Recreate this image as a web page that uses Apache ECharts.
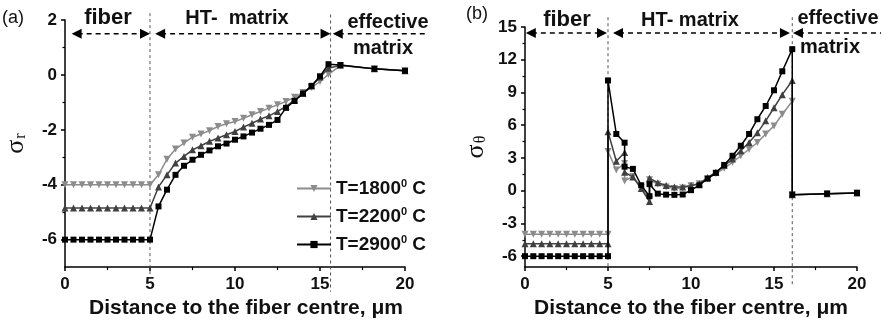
<!DOCTYPE html>
<html><head><meta charset="utf-8">
<script src="https://cdn.jsdelivr.net/npm/echarts@6/dist/echarts.min.js"></script>
<style>html,body{margin:0;padding:0;background:#fff}#c{width:881px;height:324px}</style>
</head><body><div id="c"></div>
<script>
// ---------- data: panel (a) sigma_r ----------
const xR = [0,0.5,1,1.5,2,2.5,3,3.5,4,4.5,5,
  5.5,6,6.5,7,7.5,8,8.5,9,9.5,10,10.5,11,11.5,12,12.5,13,13.5,14,14.5,15,15.5,
  16.2,18.2,20];
const sr1800 = [-4,-4,-4,-4,-4,-4,-4,-4,-4,-4,-4,
  -3.64,-3.07,-2.7,-2.48,-2.27,-2.15,-2.03,-1.88,-1.78,-1.7,-1.58,-1.45,-1.33,-1.21,-1.09,-0.97,-0.81,-0.64,-0.46,-0.24,0.02,
  0.34,0.22,0.15];
const sr2200 = [-4.85,-4.85,-4.85,-4.85,-4.85,-4.85,-4.85,-4.85,-4.85,-4.85,-4.85,
  -4.08,-3.64,-3.21,-2.97,-2.73,-2.58,-2.42,-2.3,-2.18,-2.06,-1.9,-1.76,-1.61,-1.49,-1.33,-1.15,-0.91,-0.67,-0.4,-0.08,0.24,
  0.35,0.22,0.15];
const sr2900 = [-6,-6,-6,-6,-6,-6,-6,-6,-6,-6,-6,
  -4.79,-4.18,-3.64,-3.31,-3.09,-2.91,-2.75,-2.6,-2.5,-2.36,-2.24,-2.1,-1.96,-1.82,-1.64,-1.2,-0.95,-0.68,-0.4,-0.05,0.39,
  0.36,0.22,0.15];

// ---------- data: panel (b) sigma_theta ----------
const xT = [0,0.5,1,1.5,2,2.5,3,3.5,4,4.5,5,
  5,5.5,6,6,6.5,7,7.5,7.5,8,8.5,9,9.5,10,10.5,11,11.5,12,12.5,13,13.5,14,14.5,15,15.5,16.1,
  16.1,18.2,20];
const st1800 = [-4,-4,-4,-4,-4,-4,-4,-4,-4,-4,-4,
  3.6,1.9,2.5,0.9,1.3,0.3,-0.75,1.0,0.6,0.35,0.2,0.25,0.45,0.64,1.1,1.55,2.06,2.6,3.2,3.8,4.42,5.2,5.94,7.0,8.2,
  -0.36,-0.27,-0.2];
const st2200 = [-4.85,-4.85,-4.85,-4.85,-4.85,-4.85,-4.85,-4.85,-4.85,-4.85,-4.85,
  5.4,2.7,3.5,1.7,1.25,0.2,-1.0,1.15,0.73,0.48,0.33,0.33,0.48,0.64,1.2,1.7,2.3,2.9,3.67,4.42,5.3,6.4,7.6,8.8,10.1,
  -0.36,-0.27,-0.2];
const st2900 = [-6,-6,-6,-6,-6,-6,-6,-6,-6,-6,-6,
  10.1,5.2,4.4,2.2,2.0,0.5,-0.5,0.6,-0.27,-0.36,-0.38,-0.35,0.05,0.5,1.1,1.64,2.36,3.2,4.12,5.2,6.55,7.76,9.2,10.94,12.97,
  -0.36,-0.27,-0.2];

const seriesNames = ['T=1800','T=2200','T=2900'];
const yTicksA = [-6,-4,-2,0,2];
const yMinorA = [-5,-3,-1,1];
const yTicksB = [-6,-3,0,3,6,9,12,15];
const yMinorB = [-4.5,-1.5,1.5,4.5,7.5,10.5,13.5];

// annotation spans (data units)
const arrowsA = {y:1.5, segs:[[0.39,5.0,true,true],[5.3,15.62,true,true],[15.75,21.3,true,false]]};
const arrowsB = {y:14.45, segs:[[0.05,4.94,true,true],[5.3,15.96,true,true],[16.14,21.5,true,false]]};
const vlinesA = [[5,2.25,-7.4],[15.62,2.2,-7.9]];
const vlinesB = [[5,15.9,-7],[16.1,15.9,-8.6]];

const FONT = '"Liberation Sans", Arial, sans-serif';
const SERIF = '"Liberation Serif", "Times New Roman", serif';
const colors = ['#8c8c8c','#404040','#000000'];
const symbols = [['triangle',180],['triangle',0],['rect',0]];
const zip = (xs, ys) => xs.map((x,i)=>[x, ys[i]]);

const chart = echarts.init(document.getElementById('c'), null, {renderer:'canvas'});

function xAxisCfg(grid, nameGap, pad){
  return {gridIndex:grid, type:'value', min:0, max:20, interval:5,
    axisLine:{onZero:false, lineStyle:{color:'#000', width:1.5}},
    axisTick:{length:4, lineStyle:{color:'#000', width:1.5}},
    minorTick:{show:true, splitNumber:2, length:3, lineStyle:{color:'#000', width:1.2}},
    splitLine:{show:false},
    axisLabel:{fontSize:17, fontWeight:'bold', color:'#111', fontFamily:FONT, margin:9},
    name:'Distance to the fiber centre, \u03bcm', nameLocation:'middle', nameGap:nameGap,
    nameTextStyle:{fontSize:21, fontWeight:'bold', color:'#111', fontFamily:FONT, padding:pad}
  };
}
function yMajor(grid, min, max, ticks, name, gap){
  return {gridIndex:grid, type:'value', min:min, max:max, position:'left',
    axisLine:{show:true, onZero:false, lineStyle:{color:'#000', width:1.5}},
    axisTick:{show:true, customValues:ticks, length:4, lineStyle:{color:'#000', width:1.5}},
    axisLabel:{customValues:ticks, fontSize:17, fontWeight:'bold', color:'#111', fontFamily:FONT, margin:8},
    splitLine:{show:false},
    name:name, nameLocation:'middle', nameGap:gap, nameRotate:90,
    nameTextStyle:{rich:{
      g:{fontFamily:SERIF, fontSize:26, color:'#111'},
      sub:{fontFamily:SERIF, fontSize:16, color:'#111', padding:[10,0,0,1]}
    }}
  };
}
function yMinor(grid, min, max, ticks){
  return {gridIndex:grid, type:'value', min:min, max:max, position:'left', offset:0,
    axisLine:{show:false, onZero:false},
    axisTick:{show:true, customValues:ticks, length:2.5, lineStyle:{color:'#000', width:1.2}},
    axisLabel:{show:false}, splitLine:{show:false}};
}

const series = [];
const setsA = [sr1800, sr2200, sr2900];
const setsB = [st1800, st2200, st2900];
for (let i=0;i<3;i++){
  series.push({type:'line', name:seriesNames[i], xAxisIndex:0, yAxisIndex:0,
    data:zip(xR, setsA[i]), symbol:symbols[i][0], symbolRotate:symbols[i][1],
    symbolSize: i===2?6:7, showAllSymbol:true, animation:false,
    lineStyle:{color:colors[i], width:1.5}, itemStyle:{color:colors[i]}, z:2+i});
}
for (let i=0;i<3;i++){
  series.push({type:'line', name:seriesNames[i], xAxisIndex:1, yAxisIndex:2,
    data:zip(xT, setsB[i]), symbol:symbols[i][0], symbolRotate:symbols[i][1],
    symbolSize: i===2?6:7, showAllSymbol:true, animation:false,
    lineStyle:{color:colors[i], width:1.5}, itemStyle:{color:colors[i]}, z:2+i});
}

chart.setOption({
  backgroundColor:'#fff',
  animation:false,
  grid:[
    {left:65, right:476, top:20, bottom:56, containLabel:false},
    {left:525, right:24, top:27, bottom:56, containLabel:false}
  ],
  xAxis:[xAxisCfg(0, 28, [0,0,0,22]), xAxisCfg(1, 25, [0,0,0,0])],
  yAxis:[
    yMajor(0, -7, 2, yTicksA, '{g|\u03c3}{sub|r}', 36),
    yMinor(0, -7, 2, yMinorA),
    yMajor(1, -7, 15, yTicksB, '{g|\u03c3}{sub|\u03b8}', 36),
    yMinor(1, -7, 15, yMinorB)
  ],
  legend:{data:seriesNames, orient:'vertical', left:291, top:173, itemWidth:34, itemHeight:9, itemGap:8,
    formatter: n => '{a|' + n + '}{s|0}{a| C}',
    textStyle:{rich:{
      a:{fontSize:19, fontWeight:'bold', fontFamily:FONT, color:'#111'},
      s:{fontSize:11, fontWeight:'bold', fontFamily:FONT, color:'#111', padding:[0,0,10,0]}
    }}},
  series:series
});

// ---------- annotations drawn from the axes' scales ----------
function px(gi, x, y){ return chart.convertToPixel({xAxisIndex:gi, yAxisIndex:gi===0?0:2}, [x,y]); }
const g = [];
function arrowHead(xTip, y, dir){ // dir -1 = points left, +1 = points right
  const L = 10, H = 5;
  g.push({type:'polygon', shape:{points:[[xTip,y],[xTip-dir*L,y-H],[xTip-dir*L,y+H]]}, style:{fill:'#000'}, z:20});
}
function drawArrows(gi, spec){
  spec.segs.forEach(s=>{
    const p1 = px(gi, s[0], spec.y), p2 = px(gi, s[1], spec.y);
    const y = p1[1];
    g.push({type:'line', shape:{x1:p1[0]+(s[2]?6:0), y1:y, x2:p2[0]-(s[3]?6:0), y2:y},
      style:{stroke:'#000', lineWidth:1.4, lineDash:[5,4]}, z:19});
    if (s[2]) arrowHead(p1[0], y, -1);
    if (s[3]) arrowHead(p2[0], y, 1);
  });
}
function drawVlines(gi, list){
  list.forEach(v=>{
    const a = px(gi, v[0], v[1]), b = px(gi, v[0], v[2]);
    g.push({type:'line', shape:{x1:a[0], y1:a[1], x2:b[0], y2:b[1]},
      style:{stroke:'#555', lineWidth:1, lineDash:[3,3]}, z:1});
  });
}
drawArrows(0, arrowsA); drawArrows(1, arrowsB);
drawVlines(0, vlinesA); drawVlines(1, vlinesB);

function txt(t, x, y, size, bold, align){
  g.push({type:'text', x:x, y:y, z:25, style:{text:t, font:(bold?'bold ':'')+size+'px '+FONT,
    fill:'#111', align:align||'center', verticalAlign:'middle'}});
}
txt('(a)', 2, 18, 18, false, 'left');
txt('fiber', 108, 18, 22, true);
txt('HT-  matrix', 237, 18, 20, true);
txt('effective', 388, 22, 20, true);
txt('matrix', 383, 48, 20, true);
txt('(b)', 466, 14, 18, false, 'left');
txt('fiber', 567, 20, 22, true);
txt('HT- matrix', 690, 20, 20, true);
txt('effective', 838, 18, 20, true);
txt('matrix', 830, 47, 20, true);

chart.setOption({graphic:{elements:g}});
</script>
</body></html>
